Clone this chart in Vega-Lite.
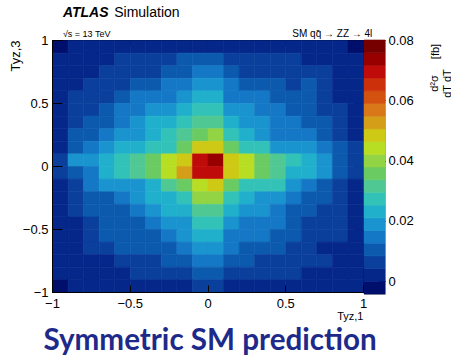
{
  "$schema": "https://vega.github.io/schema/vega-lite/v6.json",
  "autosize": {"type": "pad"},
  "padding": {"left": 8, "top": 5, "right": 0, "bottom": 0},
  "background": "white",
  "bounds": "flush",
  "spacing": 1,
  "config": {
    "view": {"stroke": "black", "strokeWidth": 1},
    "font": "Liberation Sans",
    "axis": {"grid": false, "domainColor": "black", "tickColor": "black", "labelColor": "black", "titleColor": "black", "labelFont": "Liberation Sans", "titleFont": "Liberation Sans", "labelFontSize": 13, "titleFontSize": 13, "titleFontWeight": "normal", "labelFlush": false}
  },
  "title": {"text": "Symmetric SM prediction", "orient": "bottom", "anchor": "start", "dx": 35, "font": "Lato", "fontSize": 29.6, "fontWeight": "bold", "color": "#1e2a8a", "offset": 5},
  "hconcat": [
    {
      "width": 311,
      "height": 252,
      "layer": [
        {
          "data": {"values": [
{"x":-1,"y":0.9,"v":-0.001},{"x":-0.9,"y":0.9,"v":0.0021},{"x":-0.8,"y":0.9,"v":0.0021},{"x":-0.7,"y":0.9,"v":0.0021},{"x":-0.6,"y":0.9,"v":0.0021},{"x":-0.5,"y":0.9,"v":0.0021},{"x":-0.4,"y":0.9,"v":0.0021},{"x":-0.3,"y":0.9,"v":0.0021},{"x":-0.2,"y":0.9,"v":0.0021},{"x":-0.1,"y":0.9,"v":0.0021},{"x":0,"y":0.9,"v":0.0021},{"x":0.1,"y":0.9,"v":0.0021},{"x":0.2,"y":0.9,"v":0.0021},{"x":0.3,"y":0.9,"v":0.0021},{"x":0.4,"y":0.9,"v":0.0021},{"x":0.5,"y":0.9,"v":0.0021},{"x":0.6,"y":0.9,"v":0.0021},{"x":0.7,"y":0.9,"v":0.0021},{"x":0.8,"y":0.9,"v":0.0021},{"x":0.9,"y":0.9,"v":-0.001},
{"x":-1,"y":0.8,"v":0.0021},{"x":-0.9,"y":0.8,"v":0.0021},{"x":-0.8,"y":0.8,"v":0.0021},{"x":-0.7,"y":0.8,"v":0.0021},{"x":-0.6,"y":0.8,"v":0.0063},{"x":-0.5,"y":0.8,"v":0.0063},{"x":-0.4,"y":0.8,"v":0.0063},{"x":-0.3,"y":0.8,"v":0.0063},{"x":-0.2,"y":0.8,"v":0.0105},{"x":-0.1,"y":0.8,"v":0.0105},{"x":0,"y":0.8,"v":0.0105},{"x":0.1,"y":0.8,"v":0.0063},{"x":0.2,"y":0.8,"v":0.0063},{"x":0.3,"y":0.8,"v":0.0063},{"x":0.4,"y":0.8,"v":0.0063},{"x":0.5,"y":0.8,"v":0.0063},{"x":0.6,"y":0.8,"v":0.0021},{"x":0.7,"y":0.8,"v":0.0021},{"x":0.8,"y":0.8,"v":0.0021},{"x":0.9,"y":0.8,"v":0.0021},
{"x":-1,"y":0.7,"v":0.0021},{"x":-0.9,"y":0.7,"v":0.0021},{"x":-0.8,"y":0.7,"v":0.0021},{"x":-0.7,"y":0.7,"v":0.0063},{"x":-0.6,"y":0.7,"v":0.0063},{"x":-0.5,"y":0.7,"v":0.0063},{"x":-0.4,"y":0.7,"v":0.0063},{"x":-0.3,"y":0.7,"v":0.0105},{"x":-0.2,"y":0.7,"v":0.0105},{"x":-0.1,"y":0.7,"v":0.0147},{"x":0,"y":0.7,"v":0.0147},{"x":0.1,"y":0.7,"v":0.0105},{"x":0.2,"y":0.7,"v":0.0063},{"x":0.3,"y":0.7,"v":0.0063},{"x":0.4,"y":0.7,"v":0.0063},{"x":0.5,"y":0.7,"v":0.0063},{"x":0.6,"y":0.7,"v":0.0063},{"x":0.7,"y":0.7,"v":0.0063},{"x":0.8,"y":0.7,"v":0.0021},{"x":0.9,"y":0.7,"v":0.0021},
{"x":-1,"y":0.6,"v":0.0021},{"x":-0.9,"y":0.6,"v":0.0021},{"x":-0.8,"y":0.6,"v":0.0063},{"x":-0.7,"y":0.6,"v":0.0063},{"x":-0.6,"y":0.6,"v":0.0063},{"x":-0.5,"y":0.6,"v":0.0105},{"x":-0.4,"y":0.6,"v":0.0105},{"x":-0.3,"y":0.6,"v":0.0147},{"x":-0.2,"y":0.6,"v":0.0147},{"x":-0.1,"y":0.6,"v":0.0189},{"x":0,"y":0.6,"v":0.0189},{"x":0.1,"y":0.6,"v":0.0147},{"x":0.2,"y":0.6,"v":0.0105},{"x":0.3,"y":0.6,"v":0.0105},{"x":0.4,"y":0.6,"v":0.0105},{"x":0.5,"y":0.6,"v":0.0063},{"x":0.6,"y":0.6,"v":0.0105},{"x":0.7,"y":0.6,"v":0.0063},{"x":0.8,"y":0.6,"v":0.0021},{"x":0.9,"y":0.6,"v":0.0021},
{"x":-1,"y":0.5,"v":0.0021},{"x":-0.9,"y":0.5,"v":0.0063},{"x":-0.8,"y":0.5,"v":0.0063},{"x":-0.7,"y":0.5,"v":0.0063},{"x":-0.6,"y":0.5,"v":0.0105},{"x":-0.5,"y":0.5,"v":0.0147},{"x":-0.4,"y":0.5,"v":0.0147},{"x":-0.3,"y":0.5,"v":0.0147},{"x":-0.2,"y":0.5,"v":0.0189},{"x":-0.1,"y":0.5,"v":0.0231},{"x":0,"y":0.5,"v":0.0231},{"x":0.1,"y":0.5,"v":0.0147},{"x":0.2,"y":0.5,"v":0.0147},{"x":0.3,"y":0.5,"v":0.0147},{"x":0.4,"y":0.5,"v":0.0105},{"x":0.5,"y":0.5,"v":0.0105},{"x":0.6,"y":0.5,"v":0.0105},{"x":0.7,"y":0.5,"v":0.0063},{"x":0.8,"y":0.5,"v":0.0021},{"x":0.9,"y":0.5,"v":0.0021},
{"x":-1,"y":0.4,"v":0.0021},{"x":-0.9,"y":0.4,"v":0.0063},{"x":-0.8,"y":0.4,"v":0.0063},{"x":-0.7,"y":0.4,"v":0.0105},{"x":-0.6,"y":0.4,"v":0.0147},{"x":-0.5,"y":0.4,"v":0.0147},{"x":-0.4,"y":0.4,"v":0.0189},{"x":-0.3,"y":0.4,"v":0.0189},{"x":-0.2,"y":0.4,"v":0.0231},{"x":-0.1,"y":0.4,"v":0.0273},{"x":0,"y":0.4,"v":0.0273},{"x":0.1,"y":0.4,"v":0.0189},{"x":0.2,"y":0.4,"v":0.0189},{"x":0.3,"y":0.4,"v":0.0147},{"x":0.4,"y":0.4,"v":0.0147},{"x":0.5,"y":0.4,"v":0.0105},{"x":0.6,"y":0.4,"v":0.0105},{"x":0.7,"y":0.4,"v":0.0063},{"x":0.8,"y":0.4,"v":0.0063},{"x":0.9,"y":0.4,"v":0.0021},
{"x":-1,"y":0.3,"v":0.0021},{"x":-0.9,"y":0.3,"v":0.0063},{"x":-0.8,"y":0.3,"v":0.0105},{"x":-0.7,"y":0.3,"v":0.0105},{"x":-0.6,"y":0.3,"v":0.0147},{"x":-0.5,"y":0.3,"v":0.0189},{"x":-0.4,"y":0.3,"v":0.0231},{"x":-0.3,"y":0.3,"v":0.0231},{"x":-0.2,"y":0.3,"v":0.0273},{"x":-0.1,"y":0.3,"v":0.0315},{"x":0,"y":0.3,"v":0.0315},{"x":0.1,"y":0.3,"v":0.0231},{"x":0.2,"y":0.3,"v":0.0189},{"x":0.3,"y":0.3,"v":0.0189},{"x":0.4,"y":0.3,"v":0.0147},{"x":0.5,"y":0.3,"v":0.0147},{"x":0.6,"y":0.3,"v":0.0105},{"x":0.7,"y":0.3,"v":0.0105},{"x":0.8,"y":0.3,"v":0.0063},{"x":0.9,"y":0.3,"v":0.0021},
{"x":-1,"y":0.2,"v":0.0021},{"x":-0.9,"y":0.2,"v":0.0105},{"x":-0.8,"y":0.2,"v":0.0105},{"x":-0.7,"y":0.2,"v":0.0147},{"x":-0.6,"y":0.2,"v":0.0189},{"x":-0.5,"y":0.2,"v":0.0189},{"x":-0.4,"y":0.2,"v":0.0231},{"x":-0.3,"y":0.2,"v":0.0273},{"x":-0.2,"y":0.2,"v":0.0315},{"x":-0.1,"y":0.2,"v":0.0357},{"x":0,"y":0.2,"v":0.0399},{"x":0.1,"y":0.2,"v":0.0273},{"x":0.2,"y":0.2,"v":0.0231},{"x":0.3,"y":0.2,"v":0.0189},{"x":0.4,"y":0.2,"v":0.0147},{"x":0.5,"y":0.2,"v":0.0147},{"x":0.6,"y":0.2,"v":0.0147},{"x":0.7,"y":0.2,"v":0.0105},{"x":0.8,"y":0.2,"v":0.0063},{"x":0.9,"y":0.2,"v":0.0021},
{"x":-1,"y":0.1,"v":0.0021},{"x":-0.9,"y":0.1,"v":0.0105},{"x":-0.8,"y":0.1,"v":0.0147},{"x":-0.7,"y":0.1,"v":0.0189},{"x":-0.6,"y":0.1,"v":0.0231},{"x":-0.5,"y":0.1,"v":0.0231},{"x":-0.4,"y":0.1,"v":0.0273},{"x":-0.3,"y":0.1,"v":0.0273},{"x":-0.2,"y":0.1,"v":0.0357},{"x":-0.1,"y":0.1,"v":0.0483},{"x":0,"y":0.1,"v":0.0483},{"x":0.1,"y":0.1,"v":0.0357},{"x":0.2,"y":0.1,"v":0.0273},{"x":0.3,"y":0.1,"v":0.0273},{"x":0.4,"y":0.1,"v":0.0189},{"x":0.5,"y":0.1,"v":0.0189},{"x":0.6,"y":0.1,"v":0.0189},{"x":0.7,"y":0.1,"v":0.0147},{"x":0.8,"y":0.1,"v":0.0105},{"x":0.9,"y":0.1,"v":0.0063},
{"x":-1,"y":0,"v":0.0063},{"x":-0.9,"y":0,"v":0.0189},{"x":-0.8,"y":0,"v":0.0189},{"x":-0.7,"y":0,"v":0.0231},{"x":-0.6,"y":0,"v":0.0273},{"x":-0.5,"y":0,"v":0.0315},{"x":-0.4,"y":0,"v":0.0357},{"x":-0.3,"y":0,"v":0.0441},{"x":-0.2,"y":0,"v":0.0483},{"x":-0.1,"y":0,"v":0.0693},{"x":0,"y":0,"v":0.0735},{"x":0.1,"y":0,"v":0.0483},{"x":0.2,"y":0,"v":0.0441},{"x":0.3,"y":0,"v":0.0357},{"x":0.4,"y":0,"v":0.0315},{"x":0.5,"y":0,"v":0.0273},{"x":0.6,"y":0,"v":0.0231},{"x":0.7,"y":0,"v":0.0189},{"x":0.8,"y":0,"v":0.0105},{"x":0.9,"y":0,"v":0.0063},
{"x":-1,"y":-0.1,"v":0.0063},{"x":-0.9,"y":-0.1,"v":0.0105},{"x":-0.8,"y":-0.1,"v":0.0147},{"x":-0.7,"y":-0.1,"v":0.0231},{"x":-0.6,"y":-0.1,"v":0.0273},{"x":-0.5,"y":-0.1,"v":0.0315},{"x":-0.4,"y":-0.1,"v":0.0357},{"x":-0.3,"y":-0.1,"v":0.0441},{"x":-0.2,"y":-0.1,"v":0.0525},{"x":-0.1,"y":-0.1,"v":0.0693},{"x":0,"y":-0.1,"v":0.0693},{"x":0.1,"y":-0.1,"v":0.0483},{"x":0.2,"y":-0.1,"v":0.0441},{"x":0.3,"y":-0.1,"v":0.0357},{"x":0.4,"y":-0.1,"v":0.0315},{"x":0.5,"y":-0.1,"v":0.0231},{"x":0.6,"y":-0.1,"v":0.0231},{"x":0.7,"y":-0.1,"v":0.0189},{"x":0.8,"y":-0.1,"v":0.0105},{"x":0.9,"y":-0.1,"v":0.0063},
{"x":-1,"y":-0.2,"v":0.0021},{"x":-0.9,"y":-0.2,"v":0.0063},{"x":-0.8,"y":-0.2,"v":0.0147},{"x":-0.7,"y":-0.2,"v":0.0189},{"x":-0.6,"y":-0.2,"v":0.0189},{"x":-0.5,"y":-0.2,"v":0.0189},{"x":-0.4,"y":-0.2,"v":0.0231},{"x":-0.3,"y":-0.2,"v":0.0315},{"x":-0.2,"y":-0.2,"v":0.0357},{"x":-0.1,"y":-0.2,"v":0.0441},{"x":0,"y":-0.2,"v":0.0483},{"x":0.1,"y":-0.2,"v":0.0357},{"x":0.2,"y":-0.2,"v":0.0273},{"x":0.3,"y":-0.2,"v":0.0273},{"x":0.4,"y":-0.2,"v":0.0273},{"x":0.5,"y":-0.2,"v":0.0189},{"x":0.6,"y":-0.2,"v":0.0147},{"x":0.7,"y":-0.2,"v":0.0105},{"x":0.8,"y":-0.2,"v":0.0063},{"x":0.9,"y":-0.2,"v":0.0021},
{"x":-1,"y":-0.3,"v":0.0021},{"x":-0.9,"y":-0.3,"v":0.0063},{"x":-0.8,"y":-0.3,"v":0.0105},{"x":-0.7,"y":-0.3,"v":0.0105},{"x":-0.6,"y":-0.3,"v":0.0147},{"x":-0.5,"y":-0.3,"v":0.0189},{"x":-0.4,"y":-0.3,"v":0.0231},{"x":-0.3,"y":-0.3,"v":0.0231},{"x":-0.2,"y":-0.3,"v":0.0273},{"x":-0.1,"y":-0.3,"v":0.0399},{"x":0,"y":-0.3,"v":0.0399},{"x":0.1,"y":-0.3,"v":0.0273},{"x":0.2,"y":-0.3,"v":0.0231},{"x":0.3,"y":-0.3,"v":0.0189},{"x":0.4,"y":-0.3,"v":0.0189},{"x":0.5,"y":-0.3,"v":0.0147},{"x":0.6,"y":-0.3,"v":0.0105},{"x":0.7,"y":-0.3,"v":0.0105},{"x":0.8,"y":-0.3,"v":0.0063},{"x":0.9,"y":-0.3,"v":0.0021},
{"x":-1,"y":-0.4,"v":0.0021},{"x":-0.9,"y":-0.4,"v":0.0063},{"x":-0.8,"y":-0.4,"v":0.0105},{"x":-0.7,"y":-0.4,"v":0.0105},{"x":-0.6,"y":-0.4,"v":0.0105},{"x":-0.5,"y":-0.4,"v":0.0147},{"x":-0.4,"y":-0.4,"v":0.0189},{"x":-0.3,"y":-0.4,"v":0.0231},{"x":-0.2,"y":-0.4,"v":0.0231},{"x":-0.1,"y":-0.4,"v":0.0315},{"x":0,"y":-0.4,"v":0.0315},{"x":0.1,"y":-0.4,"v":0.0231},{"x":0.2,"y":-0.4,"v":0.0189},{"x":0.3,"y":-0.4,"v":0.0189},{"x":0.4,"y":-0.4,"v":0.0147},{"x":0.5,"y":-0.4,"v":0.0105},{"x":0.6,"y":-0.4,"v":0.0105},{"x":0.7,"y":-0.4,"v":0.0063},{"x":0.8,"y":-0.4,"v":0.0063},{"x":0.9,"y":-0.4,"v":0.0021},
{"x":-1,"y":-0.5,"v":0.0021},{"x":-0.9,"y":-0.5,"v":0.0021},{"x":-0.8,"y":-0.5,"v":0.0063},{"x":-0.7,"y":-0.5,"v":0.0105},{"x":-0.6,"y":-0.5,"v":0.0105},{"x":-0.5,"y":-0.5,"v":0.0105},{"x":-0.4,"y":-0.5,"v":0.0147},{"x":-0.3,"y":-0.5,"v":0.0189},{"x":-0.2,"y":-0.5,"v":0.0189},{"x":-0.1,"y":-0.5,"v":0.0273},{"x":0,"y":-0.5,"v":0.0273},{"x":0.1,"y":-0.5,"v":0.0189},{"x":0.2,"y":-0.5,"v":0.0147},{"x":0.3,"y":-0.5,"v":0.0147},{"x":0.4,"y":-0.5,"v":0.0147},{"x":0.5,"y":-0.5,"v":0.0105},{"x":0.6,"y":-0.5,"v":0.0063},{"x":0.7,"y":-0.5,"v":0.0063},{"x":0.8,"y":-0.5,"v":0.0063},{"x":0.9,"y":-0.5,"v":0.0021},
{"x":-1,"y":-0.6,"v":0.0021},{"x":-0.9,"y":-0.6,"v":0.0021},{"x":-0.8,"y":-0.6,"v":0.0063},{"x":-0.7,"y":-0.6,"v":0.0105},{"x":-0.6,"y":-0.6,"v":0.0105},{"x":-0.5,"y":-0.6,"v":0.0105},{"x":-0.4,"y":-0.6,"v":0.0105},{"x":-0.3,"y":-0.6,"v":0.0147},{"x":-0.2,"y":-0.6,"v":0.0189},{"x":-0.1,"y":-0.6,"v":0.0231},{"x":0,"y":-0.6,"v":0.0231},{"x":0.1,"y":-0.6,"v":0.0147},{"x":0.2,"y":-0.6,"v":0.0147},{"x":0.3,"y":-0.6,"v":0.0147},{"x":0.4,"y":-0.6,"v":0.0105},{"x":0.5,"y":-0.6,"v":0.0105},{"x":0.6,"y":-0.6,"v":0.0063},{"x":0.7,"y":-0.6,"v":0.0063},{"x":0.8,"y":-0.6,"v":0.0063},{"x":0.9,"y":-0.6,"v":0.0021},
{"x":-1,"y":-0.7,"v":0.0021},{"x":-0.9,"y":-0.7,"v":0.0021},{"x":-0.8,"y":-0.7,"v":0.0063},{"x":-0.7,"y":-0.7,"v":0.0063},{"x":-0.6,"y":-0.7,"v":0.0105},{"x":-0.5,"y":-0.7,"v":0.0105},{"x":-0.4,"y":-0.7,"v":0.0105},{"x":-0.3,"y":-0.7,"v":0.0105},{"x":-0.2,"y":-0.7,"v":0.0147},{"x":-0.1,"y":-0.7,"v":0.0189},{"x":0,"y":-0.7,"v":0.0189},{"x":0.1,"y":-0.7,"v":0.0147},{"x":0.2,"y":-0.7,"v":0.0105},{"x":0.3,"y":-0.7,"v":0.0105},{"x":0.4,"y":-0.7,"v":0.0105},{"x":0.5,"y":-0.7,"v":0.0063},{"x":0.6,"y":-0.7,"v":0.0063},{"x":0.7,"y":-0.7,"v":0.0021},{"x":0.8,"y":-0.7,"v":0.0021},{"x":0.9,"y":-0.7,"v":0.0021},
{"x":-1,"y":-0.8,"v":0.0021},{"x":-0.9,"y":-0.8,"v":0.0021},{"x":-0.8,"y":-0.8,"v":0.0021},{"x":-0.7,"y":-0.8,"v":0.0021},{"x":-0.6,"y":-0.8,"v":0.0063},{"x":-0.5,"y":-0.8,"v":0.0063},{"x":-0.4,"y":-0.8,"v":0.0063},{"x":-0.3,"y":-0.8,"v":0.0105},{"x":-0.2,"y":-0.8,"v":0.0105},{"x":-0.1,"y":-0.8,"v":0.0147},{"x":0,"y":-0.8,"v":0.0147},{"x":0.1,"y":-0.8,"v":0.0105},{"x":0.2,"y":-0.8,"v":0.0105},{"x":0.3,"y":-0.8,"v":0.0063},{"x":0.4,"y":-0.8,"v":0.0063},{"x":0.5,"y":-0.8,"v":0.0063},{"x":0.6,"y":-0.8,"v":0.0063},{"x":0.7,"y":-0.8,"v":0.0063},{"x":0.8,"y":-0.8,"v":0.0021},{"x":0.9,"y":-0.8,"v":0.0021},
{"x":-1,"y":-0.9,"v":0.0021},{"x":-0.9,"y":-0.9,"v":0.0021},{"x":-0.8,"y":-0.9,"v":0.0021},{"x":-0.7,"y":-0.9,"v":0.0021},{"x":-0.6,"y":-0.9,"v":0.0021},{"x":-0.5,"y":-0.9,"v":0.0063},{"x":-0.4,"y":-0.9,"v":0.0063},{"x":-0.3,"y":-0.9,"v":0.0063},{"x":-0.2,"y":-0.9,"v":0.0063},{"x":-0.1,"y":-0.9,"v":0.0105},{"x":0,"y":-0.9,"v":0.0105},{"x":0.1,"y":-0.9,"v":0.0063},{"x":0.2,"y":-0.9,"v":0.0063},{"x":0.3,"y":-0.9,"v":0.0063},{"x":0.4,"y":-0.9,"v":0.0063},{"x":0.5,"y":-0.9,"v":0.0063},{"x":0.6,"y":-0.9,"v":0.0021},{"x":0.7,"y":-0.9,"v":0.0021},{"x":0.8,"y":-0.9,"v":0.0021},{"x":0.9,"y":-0.9,"v":0.0021},
{"x":-1,"y":-1,"v":-0.001},{"x":-0.9,"y":-1,"v":0.0021},{"x":-0.8,"y":-1,"v":0.0021},{"x":-0.7,"y":-1,"v":0.0021},{"x":-0.6,"y":-1,"v":0.0021},{"x":-0.5,"y":-1,"v":0.0021},{"x":-0.4,"y":-1,"v":0.0021},{"x":-0.3,"y":-1,"v":0.0021},{"x":-0.2,"y":-1,"v":0.0021},{"x":-0.1,"y":-1,"v":0.0063},{"x":0,"y":-1,"v":0.0063},{"x":0.1,"y":-1,"v":0.0021},{"x":0.2,"y":-1,"v":0.0021},{"x":0.3,"y":-1,"v":0.0021},{"x":0.4,"y":-1,"v":0.0021},{"x":0.5,"y":-1,"v":0.0021},{"x":0.6,"y":-1,"v":0.0021},{"x":0.7,"y":-1,"v":0.0021},{"x":0.8,"y":-1,"v":0.0021},{"x":0.9,"y":-1,"v":0.0021}
          ]},
          "mark": {"type": "rect", "strokeWidth": 0.6},
          "encoding": {
            "x": {"field": "x", "type": "quantitative", "bin": {"binned": true, "step": 0.1},
              "scale": {"domain": [-1, 1], "nice": false, "zero": false},
              "axis": {"orient": "bottom", "values": [-1, -0.5, 0, 0.5, 1], "format": "~g", "tickSize": -7, "labelPadding": 12, "title": "Tyz,1", "titleAnchor": "end", "titlePadding": 0, "titleFontSize": 11}},
            "y": {"field": "y", "type": "quantitative", "bin": {"binned": true, "step": 0.1},
              "scale": {"domain": [-1, 1], "nice": false, "zero": false},
              "axis": {"orient": "left", "values": [-1, -0.5, 0, 0.5, 1], "format": "~g", "tickSize": -10, "labelPadding": 14, "title": "Tyz,3", "titleAnchor": "end", "titleX": -37, "titleBaseline": "middle"}},
            "color": {"field": "v", "type": "quantitative",
              "scale": {"type": "quantize", "domain": [-0.0042, 0.08], "nice": false,
                "range": ["#000e6c", "#05278a", "#0a3f9c", "#0c5aae", "#1478c6", "#1a94cf", "#20b0cc", "#32c2b8", "#50c894", "#6acb62", "#92d444", "#b8de24", "#cdc914", "#d49e18", "#d87818", "#d35210", "#cc300a", "#bf0c0a", "#980000", "#760000"]},
              "legend": null},
            "stroke": {"field": "v", "type": "quantitative",
              "scale": {"type": "quantize", "domain": [-0.0042, 0.08], "nice": false,
                "range": ["#000e6c", "#05278a", "#0a3f9c", "#0c5aae", "#1478c6", "#1a94cf", "#20b0cc", "#32c2b8", "#50c894", "#6acb62", "#92d444", "#b8de24", "#cdc914", "#d49e18", "#d87818", "#d35210", "#cc300a", "#bf0c0a", "#980000", "#760000"]},
              "legend": null}
          }
        },
        {
          "data": {"values": [{"t": "√s = 13 TeV"}]},
          "mark": {"type": "text", "align": "left", "baseline": "alphabetic", "fontSize": 9, "font": "Liberation Sans", "color": "black"},
          "encoding": {
            "x": {"datum": -0.93, "type": "quantitative", "axis": {"orient": "top", "values": [-1, -0.5, 0, 0.5, 1], "labels": false, "tickSize": -6, "title": "[fb]", "titleAngle": -90, "titleX": 383, "titleY": 11, "titleAlign": "center", "titleBaseline": "middle", "titleFontSize": 11}},
            "y": {"datum": 1.02, "type": "quantitative", "axis": {"orient": "right", "values": [-1, -0.5, 0, 0.5, 1], "labels": false, "tickSize": -10, "title": null}},
            "text": {"field": "t"}
          }
        },
        {
          "data": {"values": [{"t": "SM  qq̄ → ZZ → 4l"}]},
          "mark": {"type": "text", "align": "right", "baseline": "alphabetic", "fontSize": 10, "font": "Liberation Sans", "color": "black"},
          "encoding": {
            "x": {"datum": 1.06, "type": "quantitative", "axis": null},
            "y": {"datum": 1.02, "type": "quantitative", "axis": null},
            "text": {"field": "t"}
          }
        },
        {
          "data": {"values": [{"t": "ATLAS"}]},
          "mark": {"type": "text", "align": "left", "baseline": "alphabetic", "fontSize": 14, "font": "Liberation Sans", "fontStyle": "italic", "fontWeight": "bold", "color": "black"},
          "encoding": {
            "x": {"datum": -0.93, "type": "quantitative", "axis": null},
            "y": {"datum": 1.186, "type": "quantitative", "axis": null},
            "text": {"field": "t"}
          }
        },
        {
          "data": {"values": [{"t": "Simulation"}]},
          "mark": {"type": "text", "align": "left", "baseline": "alphabetic", "fontSize": 14, "font": "Liberation Sans", "color": "black"},
          "encoding": {
            "x": {"datum": -0.6, "type": "quantitative", "axis": null},
            "y": {"datum": 1.186, "type": "quantitative", "axis": null},
            "text": {"field": "t"}
          }
        }
      ],
      "resolve": {"axis": {"x": "independent", "y": "independent"}}
    },
    {
      "width": 21,
      "height": 254,
      "view": {"stroke": "#aaaaaa"},
      "data": {"values": [
        {"lo": -0.0042, "hi": 0.00001, "v": -0.0021},
        {"lo": 0.00001, "hi": 0.00422, "v": 0.0021},
        {"lo": 0.00422, "hi": 0.00843, "v": 0.0063},
        {"lo": 0.00843, "hi": 0.01264, "v": 0.0105},
        {"lo": 0.01264, "hi": 0.01685, "v": 0.0147},
        {"lo": 0.01685, "hi": 0.02106, "v": 0.0189},
        {"lo": 0.02106, "hi": 0.02527, "v": 0.0231},
        {"lo": 0.02527, "hi": 0.02948, "v": 0.0273},
        {"lo": 0.02948, "hi": 0.03369, "v": 0.0315},
        {"lo": 0.03369, "hi": 0.0379, "v": 0.0357},
        {"lo": 0.0379, "hi": 0.04211, "v": 0.0399},
        {"lo": 0.04211, "hi": 0.04632, "v": 0.0441},
        {"lo": 0.04632, "hi": 0.05053, "v": 0.0483},
        {"lo": 0.05053, "hi": 0.05474, "v": 0.0525},
        {"lo": 0.05474, "hi": 0.05895, "v": 0.0568},
        {"lo": 0.05895, "hi": 0.06316, "v": 0.061},
        {"lo": 0.06316, "hi": 0.06737, "v": 0.0652},
        {"lo": 0.06737, "hi": 0.07158, "v": 0.0694},
        {"lo": 0.07158, "hi": 0.07579, "v": 0.0736},
        {"lo": 0.07579, "hi": 0.08, "v": 0.0778}
      ]},
      "mark": {"type": "rect", "strokeWidth": 0.6},
      "encoding": {
        "y": {"field": "lo", "type": "quantitative",
          "scale": {"domain": [-0.0042, 0.08], "nice": false, "zero": false},
          "axis": {"orient": "right", "values": [0, 0.02, 0.04, 0.06, 0.08], "format": "~g", "tickSize": -7, "labelPadding": 10, "domain": false, "title": ["d²σ", "dT dT"], "titleAngle": -90, "titleX": 49, "titleY": 43, "titleAlign": "center", "titleBaseline": "middle", "titleFontSize": 11}},
        "y2": {"field": "hi"},
        "color": {"field": "v", "type": "quantitative",
          "scale": {"type": "quantize", "domain": [-0.0042, 0.08], "nice": false,
            "range": ["#000e6c", "#05278a", "#0a3f9c", "#0c5aae", "#1478c6", "#1a94cf", "#20b0cc", "#32c2b8", "#50c894", "#6acb62", "#92d444", "#b8de24", "#cdc914", "#d49e18", "#d87818", "#d35210", "#cc300a", "#bf0c0a", "#980000", "#760000"]},
          "legend": null},
        "stroke": {"field": "v", "type": "quantitative",
          "scale": {"type": "quantize", "domain": [-0.0042, 0.08], "nice": false,
            "range": ["#000e6c", "#05278a", "#0a3f9c", "#0c5aae", "#1478c6", "#1a94cf", "#20b0cc", "#32c2b8", "#50c894", "#6acb62", "#92d444", "#b8de24", "#cdc914", "#d49e18", "#d87818", "#d35210", "#cc300a", "#bf0c0a", "#980000", "#760000"]},
          "legend": null}
      }
    }
  ]
}
